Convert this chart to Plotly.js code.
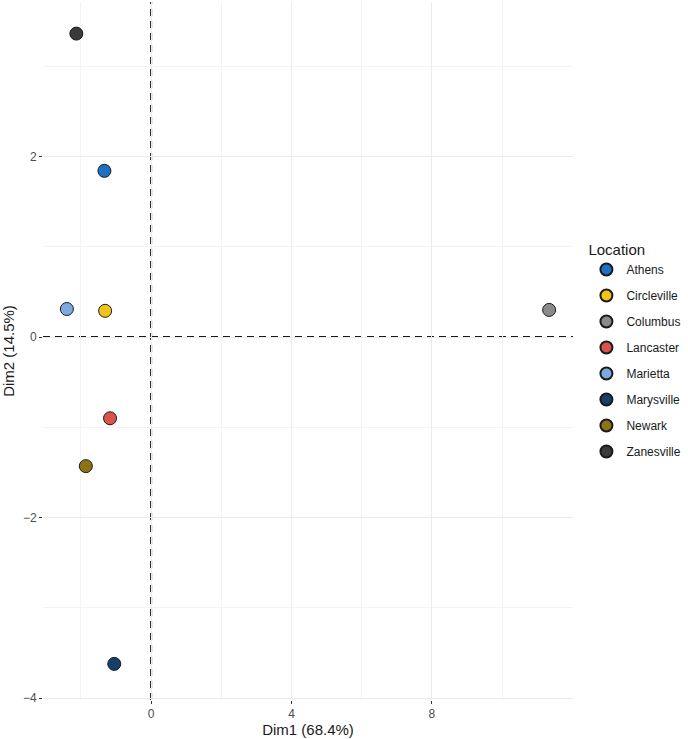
<!DOCTYPE html>
<html>
<head>
<meta charset="utf-8">
<script src="https://cdn.plot.ly/plotly-3.0.1.min.js"></script>
<style>
  html, body { margin: 0; padding: 0; background: #ffffff; }
  #chart { width: 688px; height: 739px; }
</style>
</head>
<body>
<div id="chart"></div>
<script>
// PCA scores per location
const locations = ['Athens', 'Circleville', 'Columbus', 'Lancaster', 'Marietta', 'Marysville', 'Newark', 'Zanesville'];
const dim1 = [-1.33, -1.31, 11.34, -1.17, -2.40, -1.05, -1.86, -2.13];
const dim2 = [1.84, 0.29, 0.30, -0.90, 0.31, -3.62, -1.43, 3.36];
const fills = ['#1f6fc4', '#f2c41a', '#8a8a8a', '#d9544d', '#7aaae0', '#173f6b', '#8c7414', '#3a3a3a'];

const xTitle = 'Dim1 (68.4%)';
const yTitle = 'Dim2 (14.5%)';

const font = 'Liberation Sans, Arial, sans-serif';

const traces = locations.map((name, i) => ({
  type: 'scatter',
  mode: 'markers',
  name: name,
  legendgroup: name,
  x: [dim1[i]],
  y: [dim2[i]],
  marker: { size: 13, color: fills[i], line: { color: '#1a1a1a', width: 1 } },
  hoverinfo: 'name+x+y',
}));

const dashLine = { color: '#1a1a1a', width: 2, dash: '7px,5px' };

const layout = {
  width: 688,
  height: 739,
  paper_bgcolor: '#ffffff',
  plot_bgcolor: '#ffffff',
  margin: { l: 43, r: 115, t: 2, b: 39 },
  font: { family: font, color: '#4d4d4d', size: 12 },
  showlegend: true,
  legend: {
    x: 1.214,
    xanchor: 'right',
    y: 0.5,
    yanchor: 'middle',
    title: { text: 'Location', font: { size: 15, color: '#1a1a1a' } },
    font: { size: 12, color: '#1a1a1a' },
    tracegroupgap: 7,
    itemsizing: 'constant',
  },
  xaxis: {
    range: [-3.08, 12.02],
    tickvals: [0, 4, 8],
    ticks: 'outside',
    ticklen: 3,
    tickcolor: '#333333',
    showgrid: true,
    gridcolor: '#ebebeb',
    gridwidth: 1,
    minor: { tickvals: [-2, 2, 6, 10], showgrid: true, gridcolor: '#f3f3f3', gridwidth: 0.8, ticks: '' },
    zeroline: false,
    showline: false,
    tickfont: { size: 12, color: '#4d4d4d' },
    title: { text: xTitle, font: { size: 15, color: '#1a1a1a' }, standoff: 4 },
  },
  yaxis: {
    range: [-4.02, 3.71],
    tickvals: [-4, -2, 0, 2],
    ticktext: ['\u22124', '\u22122', '0', '2'],
    ticks: 'outside',
    ticklen: 3,
    tickcolor: '#333333',
    showgrid: true,
    gridcolor: '#ebebeb',
    gridwidth: 1,
    minor: { tickvals: [-3, -1, 1, 3], showgrid: true, gridcolor: '#f3f3f3', gridwidth: 0.8, ticks: '' },
    zeroline: false,
    showline: false,
    tickfont: { size: 12, color: '#4d4d4d' },
    title: { text: yTitle, font: { size: 15, color: '#1a1a1a' }, standoff: 6 },
  },
  shapes: [
    { type: 'line', xref: 'x', yref: 'paper', x0: 0, x1: 0, y0: 0, y1: 1, line: dashLine, layer: 'below' },
    { type: 'line', xref: 'paper', yref: 'y', x0: 0, x1: 1, y0: 0, y1: 0, line: dashLine, layer: 'below' },
  ],
};

Plotly.newPlot('chart', traces, layout, { displayModeBar: false, responsive: false });
</script>
</body>
</html>
